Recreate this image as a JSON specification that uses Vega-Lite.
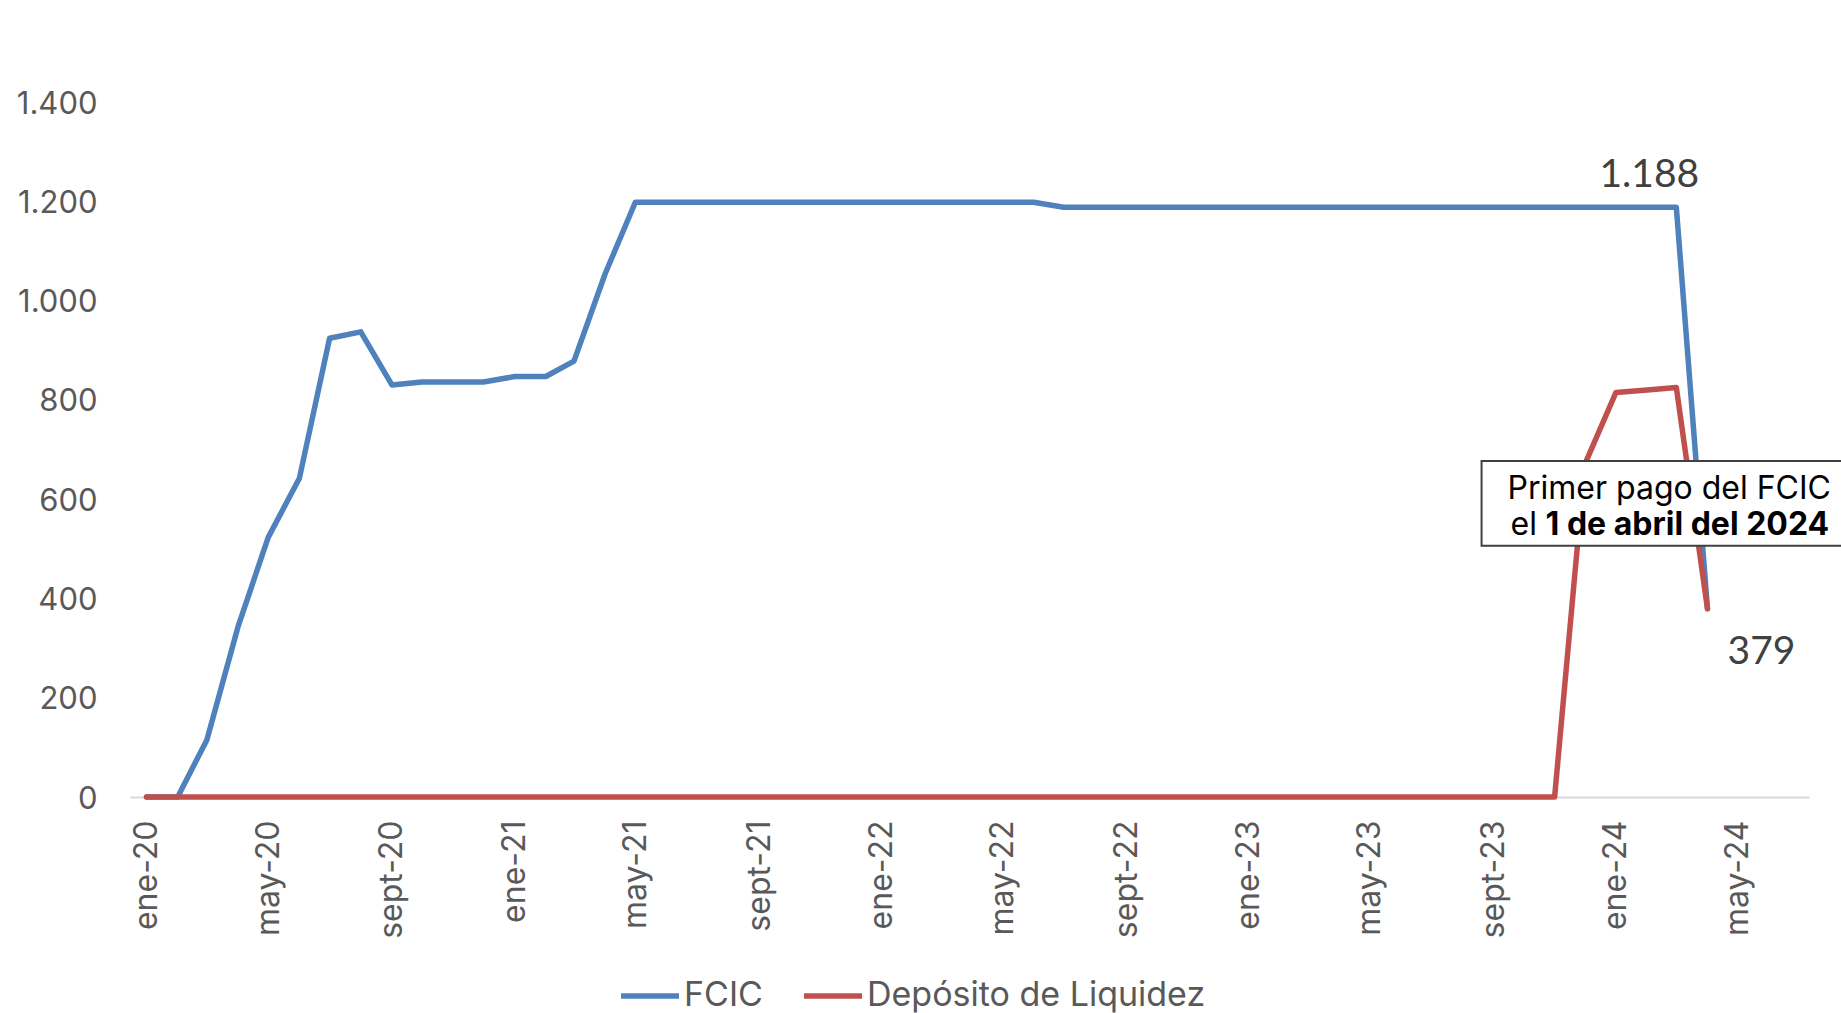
{
  "$schema": "https://vega.github.io/schema/vega-lite/v6.json",
  "width": 1679,
  "height": 695,
  "autosize": {"type": "none"},
  "padding": {"left": 130, "top": 102, "right": 32, "bottom": 216},
  "background": "white",
  "config": {"view": {"stroke": null}, "font": "Inter"},
  "datasets": {
    "series": [
      {"fecha": "2020-01-01", "FCIC": 0, "Depósito de Liquidez": 0},
      {"fecha": "2020-02-01", "FCIC": 0, "Depósito de Liquidez": 0},
      {"fecha": "2020-03-01", "FCIC": 115, "Depósito de Liquidez": 0},
      {"fecha": "2020-04-01", "FCIC": 343, "Depósito de Liquidez": 0},
      {"fecha": "2020-05-01", "FCIC": 523, "Depósito de Liquidez": 0},
      {"fecha": "2020-06-01", "FCIC": 642, "Depósito de Liquidez": 0},
      {"fecha": "2020-07-01", "FCIC": 924, "Depósito de Liquidez": 0},
      {"fecha": "2020-08-01", "FCIC": 937, "Depósito de Liquidez": 0},
      {"fecha": "2020-09-01", "FCIC": 830, "Depósito de Liquidez": 0},
      {"fecha": "2020-10-01", "FCIC": 836, "Depósito de Liquidez": 0},
      {"fecha": "2020-11-01", "FCIC": 836, "Depósito de Liquidez": 0},
      {"fecha": "2020-12-01", "FCIC": 836, "Depósito de Liquidez": 0},
      {"fecha": "2021-01-01", "FCIC": 847, "Depósito de Liquidez": 0},
      {"fecha": "2021-02-01", "FCIC": 847, "Depósito de Liquidez": 0},
      {"fecha": "2021-03-01", "FCIC": 878, "Depósito de Liquidez": 0},
      {"fecha": "2021-04-01", "FCIC": 1054, "Depósito de Liquidez": 0},
      {"fecha": "2021-05-01", "FCIC": 1198, "Depósito de Liquidez": 0},
      {"fecha": "2021-06-01", "FCIC": 1198, "Depósito de Liquidez": 0},
      {"fecha": "2021-07-01", "FCIC": 1198, "Depósito de Liquidez": 0},
      {"fecha": "2021-08-01", "FCIC": 1198, "Depósito de Liquidez": 0},
      {"fecha": "2021-09-01", "FCIC": 1198, "Depósito de Liquidez": 0},
      {"fecha": "2021-10-01", "FCIC": 1198, "Depósito de Liquidez": 0},
      {"fecha": "2021-11-01", "FCIC": 1198, "Depósito de Liquidez": 0},
      {"fecha": "2021-12-01", "FCIC": 1198, "Depósito de Liquidez": 0},
      {"fecha": "2022-01-01", "FCIC": 1198, "Depósito de Liquidez": 0},
      {"fecha": "2022-02-01", "FCIC": 1198, "Depósito de Liquidez": 0},
      {"fecha": "2022-03-01", "FCIC": 1198, "Depósito de Liquidez": 0},
      {"fecha": "2022-04-01", "FCIC": 1198, "Depósito de Liquidez": 0},
      {"fecha": "2022-05-01", "FCIC": 1198, "Depósito de Liquidez": 0},
      {"fecha": "2022-06-01", "FCIC": 1198, "Depósito de Liquidez": 0},
      {"fecha": "2022-07-01", "FCIC": 1188, "Depósito de Liquidez": 0},
      {"fecha": "2022-08-01", "FCIC": 1188, "Depósito de Liquidez": 0},
      {"fecha": "2022-09-01", "FCIC": 1188, "Depósito de Liquidez": 0},
      {"fecha": "2022-10-01", "FCIC": 1188, "Depósito de Liquidez": 0},
      {"fecha": "2022-11-01", "FCIC": 1188, "Depósito de Liquidez": 0},
      {"fecha": "2022-12-01", "FCIC": 1188, "Depósito de Liquidez": 0},
      {"fecha": "2023-01-01", "FCIC": 1188, "Depósito de Liquidez": 0},
      {"fecha": "2023-02-01", "FCIC": 1188, "Depósito de Liquidez": 0},
      {"fecha": "2023-03-01", "FCIC": 1188, "Depósito de Liquidez": 0},
      {"fecha": "2023-04-01", "FCIC": 1188, "Depósito de Liquidez": 0},
      {"fecha": "2023-05-01", "FCIC": 1188, "Depósito de Liquidez": 0},
      {"fecha": "2023-06-01", "FCIC": 1188, "Depósito de Liquidez": 0},
      {"fecha": "2023-07-01", "FCIC": 1188, "Depósito de Liquidez": 0},
      {"fecha": "2023-08-01", "FCIC": 1188, "Depósito de Liquidez": 0},
      {"fecha": "2023-09-01", "FCIC": 1188, "Depósito de Liquidez": 0},
      {"fecha": "2023-10-01", "FCIC": 1188, "Depósito de Liquidez": 0},
      {"fecha": "2023-11-01", "FCIC": 1188, "Depósito de Liquidez": 0},
      {"fecha": "2023-12-01", "FCIC": 1188, "Depósito de Liquidez": 670},
      {"fecha": "2024-01-01", "FCIC": 1188, "Depósito de Liquidez": 815},
      {"fecha": "2024-02-01", "FCIC": 1188, "Depósito de Liquidez": 820},
      {"fecha": "2024-03-01", "FCIC": 1188, "Depósito de Liquidez": 825},
      {"fecha": "2024-04-01", "FCIC": 379, "Depósito de Liquidez": 379}
    ],
    "etiquetas": [
      {"fecha": "2024-03-01", "valor": 1188, "texto": "1.188"},
      {"fecha": "2024-04-01", "valor": 379, "texto": "379"}
    ]
  },
  "layer": [
    {
      "data": {"name": "series"},
      "transform": [
        {"fold": ["FCIC", "Depósito de Liquidez"], "as": ["serie", "valor"]},
        {"filter": "datum.serie == 'FCIC'"}
      ],
      "mark": {"type": "line", "strokeWidth": 5.5, "strokeCap": "round", "strokeJoin": "round"},
      "encoding": {
        "x": {
          "field": "fecha",
          "type": "temporal",
          "scale": {
            "type": "utc",
            "domain": [
              {"year": 2019, "month": 12, "date": 15, "hours": 14, "utc": true},
              {"year": 2024, "month": 7, "date": 10, "hours": 22, "utc": true}
            ]
          },
          "axis": {
            "values": [
              {"year": 2020, "month": 1, "date": 1, "utc": true},
              {"year": 2020, "month": 5, "date": 1, "utc": true},
              {"year": 2020, "month": 9, "date": 1, "utc": true},
              {"year": 2021, "month": 1, "date": 1, "utc": true},
              {"year": 2021, "month": 5, "date": 1, "utc": true},
              {"year": 2021, "month": 9, "date": 1, "utc": true},
              {"year": 2022, "month": 1, "date": 1, "utc": true},
              {"year": 2022, "month": 5, "date": 1, "utc": true},
              {"year": 2022, "month": 9, "date": 1, "utc": true},
              {"year": 2023, "month": 1, "date": 1, "utc": true},
              {"year": 2023, "month": 5, "date": 1, "utc": true},
              {"year": 2023, "month": 9, "date": 1, "utc": true},
              {"year": 2024, "month": 1, "date": 1, "utc": true},
              {"year": 2024, "month": 5, "date": 1, "utc": true}
            ],
            "labelExpr": "(utcmonth(datum.value) == 0 ? 'ene' : utcmonth(datum.value) == 4 ? 'may' : 'sept') + '-' + utcFormat(datum.value, '%y')",
            "labelAngle": -90,
            "labelFont": "Inter",
            "labelFontSize": 32,
            "labelColor": "#595959",
            "labelPadding": 23,
            "labelOverlap": false,
            "labelFlush": false,
            "ticks": false,
            "tickSize": 0,
            "grid": false,
            "domainColor": "#D9D9D9",
            "domainWidth": 2,
            "title": null
          }
        },
        "y": {
          "field": "valor",
          "type": "quantitative",
          "scale": {"domain": [0, 1400], "nice": false, "zero": true},
          "axis": {
            "values": [0, 200, 400, 600, 800, 1000, 1200, 1400],
            "labelExpr": "replace(format(datum.value, ','), ',', '.')",
            "labelFont": "Inter",
            "labelFontSize": 31,
            "labelColor": "#595959",
            "labelPadding": 33,
            "labelOffset": 2,
            "domain": false,
            "ticks": false,
            "tickSize": 0,
            "grid": false,
            "title": null
          }
        },
        "color": {
          "field": "serie",
          "type": "nominal",
          "scale": {"domain": ["FCIC", "Depósito de Liquidez"], "range": ["#4F81BD", "#C0504D"]},
          "legend": {
            "title": null,
            "orient": "none",
            "legendX": 488,
            "legendY": 862,
            "direction": "horizontal",
            "symbolType": "stroke",
            "symbolStrokeWidth": 5.5,
            "symbolSize": 3364,
            "labelFont": "Inter",
            "labelFontSize": 34,
            "labelColor": "#595959",
            "labelOffset": 2,
            "labelLimit": 0,
            "columnPadding": 30,
            "padding": 0
          }
        }
      }
    },
    {
      "data": {"name": "series"},
      "transform": [
        {"fold": ["FCIC", "Depósito de Liquidez"], "as": ["serie", "valor"]},
        {"filter": "datum.serie != 'FCIC'"}
      ],
      "mark": {"type": "line", "strokeWidth": 5.5, "strokeCap": "round", "strokeJoin": "round"},
      "encoding": {
        "x": {"field": "fecha", "type": "temporal", "title": null},
        "y": {"field": "valor", "type": "quantitative", "title": null},
        "color": {"field": "serie", "type": "nominal"}
      }
    },
    {
      "data": {"values": [{"nota": "caja"}]},
      "mark": {"type": "rect", "fill": "white", "stroke": "#404040", "strokeWidth": 2},
      "encoding": {
        "x": {"datum": {"year": 2023, "month": 8, "date": 20, "hours": 9, "utc": true}, "type": "temporal"},
        "x2": {"datum": {"year": 2024, "month": 9, "date": 15, "utc": true}},
        "y": {"datum": 677, "type": "quantitative"},
        "y2": {"datum": 506}
      }
    },
    {
      "data": {"values": [{"nota": "linea1"}]},
      "mark": {"type": "text", "text": "Primer pago del FCIC", "font": "Inter", "fontSize": 32, "fill": "#000000", "align": "left", "baseline": "middle", "dx": 26},
      "encoding": {
        "x": {"datum": {"year": 2023, "month": 8, "date": 20, "hours": 9, "utc": true}, "type": "temporal"},
        "y": {"datum": 620, "type": "quantitative"}
      }
    },
    {
      "data": {"values": [{"nota": "linea2"}]},
      "mark": {"type": "text", "text": "el", "font": "Inter", "fontSize": 32, "fill": "#000000", "align": "left", "baseline": "middle", "dx": 29},
      "encoding": {
        "x": {"datum": {"year": 2023, "month": 8, "date": 20, "hours": 9, "utc": true}, "type": "temporal"},
        "y": {"datum": 547, "type": "quantitative"}
      }
    },
    {
      "data": {"values": [{"nota": "linea2b"}]},
      "mark": {"type": "text", "text": "1 de abril del 2024", "font": "Inter", "fontSize": 32, "fontWeight": "bold", "fill": "#000000", "align": "left", "baseline": "middle", "dx": 64},
      "encoding": {
        "x": {"datum": {"year": 2023, "month": 8, "date": 20, "hours": 9, "utc": true}, "type": "temporal"},
        "y": {"datum": 547, "type": "quantitative"}
      }
    },
    {
      "data": {"name": "etiquetas"},
      "transform": [{"filter": "datum.texto == '1.188'"}],
      "mark": {"type": "text", "font": "Lato", "fontSize": 39, "fill": "#404040", "align": "center", "baseline": "middle", "dx": -27, "dy": -32},
      "encoding": {
        "x": {"field": "fecha", "type": "temporal"},
        "y": {"field": "valor", "type": "quantitative"},
        "text": {"field": "texto"}
      }
    },
    {
      "data": {"name": "etiquetas"},
      "transform": [{"filter": "datum.texto == '379'"}],
      "mark": {"type": "text", "font": "Lato", "fontSize": 39, "fill": "#404040", "align": "center", "baseline": "middle", "dx": 54, "dy": 43},
      "encoding": {
        "x": {"field": "fecha", "type": "temporal"},
        "y": {"field": "valor", "type": "quantitative"},
        "text": {"field": "texto"}
      }
    }
  ]
}
